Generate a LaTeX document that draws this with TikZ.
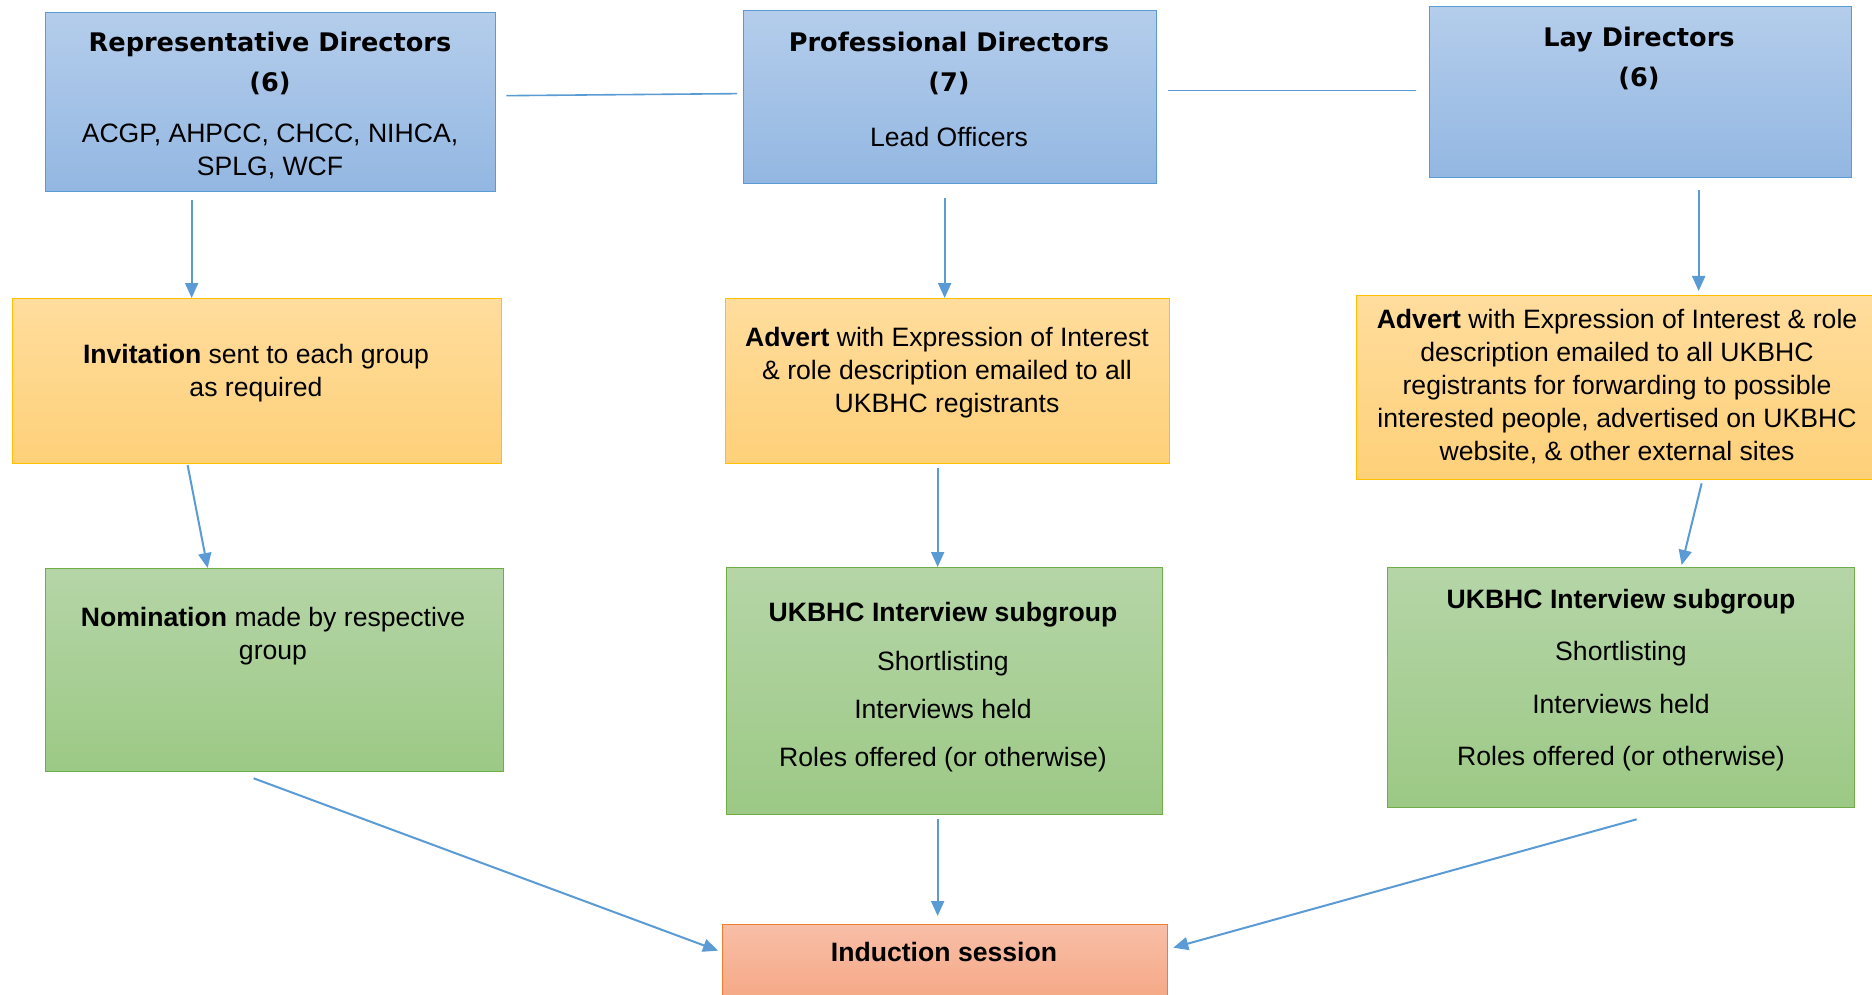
\documentclass[tikz,border=0pt]{standalone}
\usepackage{fontspec}
\setmainfont{Liberation Sans}
\newfontfamily\headfont{DejaVu Sans}
\usetikzlibrary{arrows.meta}
\definecolor{blueT}{HTML}{B4CDEB}
\definecolor{blueB}{HTML}{93B7E2}
\definecolor{blueD}{HTML}{5B9BD5}
\definecolor{orT}{HTML}{FFDD9D}
\definecolor{orB}{HTML}{FED079}
\definecolor{orD}{HTML}{FFC000}
\definecolor{grT}{HTML}{B5D5A7}
\definecolor{grB}{HTML}{9CC985}
\definecolor{grD}{HTML}{70AD47}
\definecolor{inT}{HTML}{F8BEA7}
\definecolor{inB}{HTML}{F4A47F}
\definecolor{inD}{HTML}{ED7D31}
\definecolor{arrc}{HTML}{5B9BD5}
\newcommand{\hdtxt}[1]{{\headfont\bfseries\fontsize{25.6}{33}\selectfont #1}}
\tikzset{
  box/.style={rectangle, inner sep=0pt, anchor=north west, line width=1.3pt},
  bluebox/.style={box, draw=blueD, top color=blueT, bottom color=blueB},
  orbox/.style={box, draw=orD, top color=orT, bottom color=orB},
  grbox/.style={box, draw=grD, top color=grT, bottom color=grB},
  inbox/.style={box, draw=inD, top color=inT, bottom color=inB},
  txt/.style={align=center, inner sep=0pt, font=\fontsize{26.6}{33}\selectfont},
  arr/.style={draw=arrc, line width=2pt, -{Triangle[length=15pt, width=13pt]}},
  link/.style={draw=arrc, line width=1.6pt}
}
\begin{document}
\begin{tikzpicture}[x=1pt, y=-1pt]
\useasboundingbox (0,0) rectangle (1872,995);
\fill[white] (0,0) rectangle (1872,995);
% boxes
\node[bluebox, minimum width=450pt, minimum height=179pt] (rep) at (45,12) {};
\node[bluebox, minimum width=413pt, minimum height=173pt] (prof) at (743,10) {};
\node[bluebox, minimum width=422pt, minimum height=171pt] (lay) at (1429,6) {};
\node[orbox, minimum width=489pt, minimum height=165pt] (inv) at (12,298) {};
\node[orbox, minimum width=444pt, minimum height=165pt] (advm) at (725,298) {};
\node[orbox, minimum width=520pt, minimum height=184pt] (advr) at (1356,295) {};
\node[grbox, minimum width=458pt, minimum height=203pt] (nom) at (45,568) {};
\node[grbox, minimum width=436pt, minimum height=247pt] (ukm) at (726,567) {};
\node[grbox, minimum width=467pt, minimum height=240pt] (ukr) at (1387,567) {};
\node[inbox, minimum width=445pt, minimum height=90pt] (ind) at (722,924) {};
% texts
\node[txt] (rept) at (270,105.5) {\hdtxt{Representative Directors}\\[7pt]
  \hdtxt{(6)}\\[18pt]
  ACGP, AHPCC, CHCC, NIHCA,\\ SPLG, WCF};
\node[txt] (proft) at (949,89.5) {\hdtxt{Professional Directors}\\[7pt]
  \hdtxt{(7)}\\[22pt]
  Lead Officers};
\node[txt] (layt) at (1639,58) {\hdtxt{Lay Directors}\\[7pt]
  \hdtxt{(6)}};
\node[txt] (invt) at (256,373) {\textbf{Invitation} sent to each group\\ as required};
\node[txt] (advmt) at (947,373) {\textbf{Advert} with Expression of Interest\\ \& role description emailed to all\\ UKBHC registrants};
\node[txt] (advrt) at (1617,387) {\textbf{Advert} with Expression of Interest \& role\\ description emailed to all UKBHC\\ registrants for forwarding to possible\\ interested people, advertised on UKBHC\\ website, \& other external sites};
\node[txt] (nomt) at (273,636) {\textbf{Nomination} made by respective\\ group};
\node[txt] (ukmt) at (943,687) {\textbf{UKBHC Interview subgroup}\\[16pt] Shortlisting\\[15pt] Interviews held\\[15pt] Roles offered (or otherwise)};
\node[txt] (ukrt) at (1621,680) {\textbf{UKBHC Interview subgroup}\\[19.5pt] Shortlisting\\[19.5pt] Interviews held\\[19.5pt] Roles offered (or otherwise)};
\node[txt] (indt) at (944,952) {\textbf{Induction session}};
% links
\draw[link] ([shift={(10,-6.5)}]rep.east) -- ([shift={(-6,-3.5)}]prof.west);
\draw[link] ([shift={(11,-6.5)}]prof.east) -- ([shift={(-13,-1.5)}]lay.west);
% arrows
\draw[arr] ([shift={(-79,8)}]rep.south) -- ([shift={(-65.5,0)}]inv.north);
\draw[arr] ([shift={(-5.5,14)}]prof.south) -- ([shift={(-3,0)}]advm.north);
\draw[arr] ([shift={(58,12)}]lay.south) -- ([shift={(82,-4)}]advr.north);
\draw[arr] ([shift={(-69.5,1)}]inv.south) -- ([shift={(-67,0)}]nom.north);
\draw[arr] ([shift={(-10,4)}]advm.south) -- ([shift={(-7,0)}]ukm.north);
\draw[arr] ([shift={(85,3)}]advr.south) -- ([shift={(60.5,-2)}]ukr.north);
\draw[arr] ([shift={(-21,6)}]nom.south) -- ([shift={(-4,-19)}]ind.west);
\draw[arr] ([shift={(-7,4)}]ukm.south) -- ([shift={(-7.5,-8)}]ind.north);
\draw[arr] ([shift={(15.5,11)}]ukr.south) -- ([shift={(5,-22)}]ind.east);
\end{tikzpicture}
\end{document}
